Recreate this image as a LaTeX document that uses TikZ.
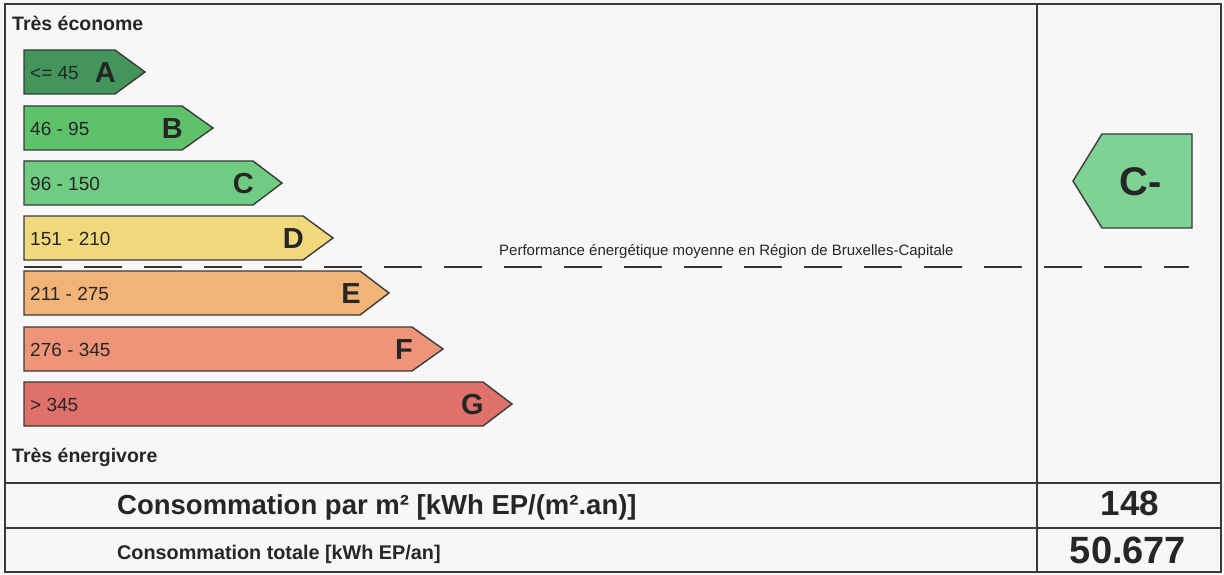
\documentclass[tikz,border=0pt]{standalone}
\usepackage{fontspec}
\setmainfont{Liberation Sans}
\definecolor{bg}{HTML}{F6F7F6}
\definecolor{frame}{HTML}{3A3A3A}
\definecolor{cA}{HTML}{43955C}
\definecolor{cB}{HTML}{5EC26B}
\definecolor{cC}{HTML}{70CC83}
\definecolor{cD}{HTML}{F1D87C}
\definecolor{cE}{HTML}{F2B377}
\definecolor{cF}{HTML}{EE9579}
\definecolor{cG}{HTML}{E0716A}
\definecolor{cCm}{HTML}{7ED293}
\newcommand\fs[1]{\fontsize{#1}{#1}\selectfont}
\newcommand\ebar[7]{%
  \draw[barline, fill=#4] (24,#1) -- (#2,#1) -- (#3,#1+22) -- (#2,#1+44) -- (24,#1+44) -- cycle;
  \node[rangetxt, anchor=west] (#7r) at (30,#1+23) {#5};
  \node[lettxt, anchor=east] (#7l) at (#2+1,#1+23) {#6};
}
\begin{document}
\begin{tikzpicture}[x=1pt,y=-1pt,
  barline/.style={draw=frame, line width=1.4pt, line join=miter},
  rangetxt/.style={inner sep=0pt, text=black!85, font=\fs{19}},
  lettxt/.style={inner sep=0pt, text=black!85, font=\fs{29}\bfseries},
  headtxt/.style={inner sep=0pt, text=black!85, font=\fs{19.5}\bfseries},
  rule/.style={draw=frame, line width=1.4pt},
  thickrule/.style={draw=frame, line width=2.2pt}]
\useasboundingbox (0,0) rectangle (1224,575);
\fill[bg] (0,0) rectangle (1224,575);
% frame
\draw[rule] (5,4) rectangle (1221,572);
\draw[rule] (1037,4) -- (1037,572);
\draw[thickrule] (5,483) -- (1221,483);
\draw[thickrule] (5,528) -- (1221,528);
% headings
\node[headtxt, anchor=base west] (top) at (12,31) {Très économe};
\node[headtxt, anchor=base west] (bottom) at (12,462) {Très énergivore};
% bars
\ebar{50}{115}{145}{cA}{<= 45}{A}{a}
\ebar{106}{182}{213}{cB}{46 - 95}{B}{b}
\ebar{161}{253}{282}{cC}{96 - 150}{C}{c}
\ebar{216}{303}{333}{cD}{151 - 210}{D}{d}
\ebar{271}{360}{389}{cE}{211 - 275}{E}{e}
\ebar{327}{412}{443}{cF}{276 - 345}{F}{f}
\ebar{382}{483}{512}{cG}{> 345}{G}{g}
% average line
\coordinate (avgL) at (24,267);
\coordinate (avgR) at (1189,267);
\draw[draw=black!80, line width=2pt, dash pattern=on 38pt off 22pt] (avgL) -- (avgR);
\node[inner sep=0pt, anchor=base west, font=\fs{15}, text=black!85] (avg) at (499,255) {Performance énergétique moyenne en Région de Bruxelles-Capitale};
% current rating
\draw[barline, fill=cCm] (1073,181) -- (1102,134) -- (1192,134) -- (1192,228) -- (1102,228) -- cycle;
\node[inner sep=0pt, font=\fs{40}\bfseries, text=black!85] (cur) at (1141,182) {C-};
% bottom table
\node[inner sep=0pt, anchor=base west, font=\fs{27.5}\bfseries, text=black!85] (perm2) at (117,514) {Consommation par m² [kWh EP/(m².an)]};
\node[inner sep=0pt, anchor=base west, font=\fs{19.8}\bfseries, text=black!85] (tot) at (117,559) {Consommation totale [kWh EP/an]};
\node[inner sep=0pt, anchor=base, font=\fs{35}\bfseries, text=black!85] (v1) at (1130,515) {148};
\node[inner sep=0pt, anchor=base, font=\fs{38}\bfseries, text=black!85] (v2) at (1128,563) {50.677};
\end{tikzpicture}
\end{document}
